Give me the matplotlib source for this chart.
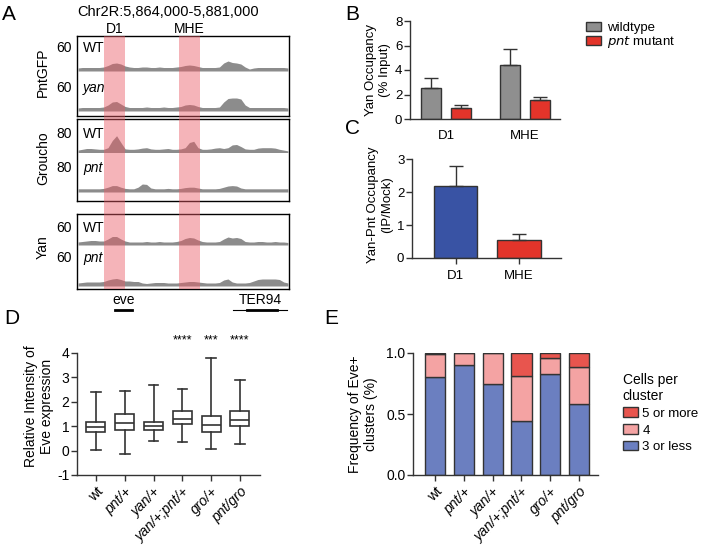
import matplotlib.pyplot as plt
import numpy as np
from matplotlib.patches import Patch

plt.rcParams['font.family'] = ['Liberation Sans', 'DejaVu Sans']
plt.rcParams['font.size'] = 9.5
plt.rcParams['axes.linewidth'] = 1.0
plt.rcParams['axes.unicode_minus'] = False

W, H = 701, 545
fig = plt.figure(figsize=(W / 100, H / 100), dpi=100)


def px_axes(x0, y0, x1, y1):
    # axes placed by pixel box (left, top, right, bottom)
    return fig.add_axes([x0 / W, 1 - y1 / H, (x1 - x0) / W, (y1 - y0) / H])


# ---------------- data ----------------
region_kb = 17.0
pntgfp_wt = [6, 7, 7, 7, 7, 7, 8, 11, 15, 16, 14, 10, 8, 7, 7, 8, 8, 7, 7, 8, 7, 7, 7, 8, 9,
             11, 12, 11, 9, 7, 7, 7, 7, 8, 16, 20, 17, 16, 14, 8, 4, 6, 7, 7, 7, 7, 7, 7, 7, 6]
pntgfp_yan = [6, 7, 7, 7, 7, 7, 8, 12, 18, 19, 14, 9, 7, 7, 7, 7, 8, 7, 7, 7, 8, 7, 7, 8, 9,
              12, 13, 12, 9, 7, 7, 7, 7, 8, 18, 25, 26, 26, 24, 12, 7, 7, 7, 7, 7, 7, 7, 7, 7, 6]
groucho_wt = [6, 8, 10, 10, 9, 8, 8, 12, 30, 42, 25, 9, 8, 8, 9, 11, 12, 9, 8, 8, 9, 10, 8, 8, 9,
              12, 25, 28, 12, 8, 8, 9, 11, 12, 10, 12, 19, 20, 15, 9, 8, 8, 11, 12, 12, 12, 11, 8, 6, 4]
groucho_pnt = [8, 8, 8, 8, 8, 8, 9, 12, 16, 16, 12, 9, 8, 8, 12, 20, 19, 10, 8, 8, 8, 9, 8, 8, 9,
               11, 12, 12, 10, 8, 8, 8, 8, 9, 12, 15, 16, 15, 10, 8, 8, 8, 8, 8, 8, 8, 8, 8, 8, 8]
yan_wt = [6, 7, 8, 9, 9, 8, 8, 12, 17, 17, 12, 8, 6, 6, 6, 6, 7, 6, 6, 7, 6, 6, 6, 7, 9,
          13, 15, 14, 10, 7, 6, 6, 6, 7, 12, 16, 14, 15, 13, 7, 6, 6, 7, 7, 6, 6, 7, 6, 6, 5]
yan_pnt = [6, 7, 8, 8, 8, 8, 9, 12, 14, 15, 13, 10, 10, 9, 9, 6, 5, 6, 7, 7, 7, 6, 6, 6, 7,
           8, 9, 9, 8, 7, 6, 6, 6, 7, 12, 14, 8, 6, 6, 6, 7, 10, 13, 14, 14, 14, 14, 13, 8, 6]
enhancers = {'D1': (2.16, 3.84), 'MHE': (8.16, 9.86)}
genes = {'eve': (3.05, 4.41, 3.05, 4.41), 'TER94': (12.5, 16.84, 13.6, 16.0)}

occ_sites = ['D1', 'MHE']
occ_wt = [2.57, 4.44]
occ_wt_err = [0.74, 1.25]
occ_pnt = [0.92, 1.54]
occ_pnt_err = [0.22, 0.28]

yp_occ = [2.17, 0.56]
yp_err = [0.61, 0.18]

genotypes = ['wt', 'pnt/+', 'yan/+', 'yan/+;pnt/+', 'gro/+', 'pnt/gro']
eve_min = [0.01, -0.14, 0.41, 0.37, 0.08, 0.29]
eve_q1 = [0.76, 0.83, 0.86, 1.07, 0.78, 0.99]
eve_med = [0.97, 1.13, 1.02, 1.29, 1.06, 1.24]
eve_q3 = [1.17, 1.52, 1.16, 1.62, 1.43, 1.62]
eve_max = [2.39, 2.46, 2.67, 2.52, 3.78, 2.91]
eve_stars = ['', '', '', '****', '***', '****']

frac_3less = [0.80, 0.90, 0.745, 0.44, 0.83, 0.585]
frac_4 = [0.19, 0.10, 0.255, 0.37, 0.13, 0.30]
frac_5more = [0.01, 0.0, 0.0, 0.19, 0.04, 0.115]

dark = '#333333'
gray_track = '#8c8c8c'

# ---------------- A: browser tracks ----------------
boxes = [(36, 116), (119, 201), (214, 289)]
for top, bot in boxes:
    axb = px_axes(77, top, 289, bot)
    axb.set_xlim(0, region_kb)
    axb.set_xticks([]), axb.set_yticks([])
    for s in axb.spines.values():
        s.set_linewidth(1.0)

x_bins = np.linspace(0, region_kb, len(pntgfp_wt))
tracks = [
    (pntgfp_wt, 60, 71, 41, 'WT', False),
    (pntgfp_yan, 60, 111, 81, 'yan', True),
    (groucho_wt, 80, 152.5, 120.5, 'WT', False),
    (groucho_pnt, 80, 192, 160, 'pnt', True),
    (yan_wt, 60, 245, 215, 'WT', False),
    (yan_pnt, 60, 286, 256, 'pnt', True),
]
label_y = [48, 88, 134, 168, 228, 258]
for (vals, scale, bot, top, lab, ital), ly in zip(tracks, label_y):
    axt = px_axes(78, top, 288, bot)
    axt.set_xlim(0, region_kb)
    axt.set_ylim(0, scale)
    axt.fill_between(x_bins, 0, vals, color=gray_track, lw=0)
    axt.set_axis_off()
    fig.text(72 / W, 1 - ly / H, str(scale), ha='right', va='center', fontsize=10)
    fig.text(83 / W, 1 - ly / H, lab, ha='left', va='center', fontsize=10,
             style='italic' if ital else 'normal')

axo = px_axes(77, 36, 289, 289)
axo.set_xlim(0, region_kb)
axo.set_axis_off()
for name, (a, b) in enhancers.items():
    axo.axvspan(a, b, color='#e95964', alpha=0.45, lw=0)
    xc = 77 + (a + b) / 2 / region_kb * 212
    fig.text(xc / W, 1 - 29 / H, name, ha='center', va='center', fontsize=10)

axg = px_axes(77, 292, 289, 316)
axg.set_xlim(0, region_kb)
axg.set_ylim(0, 1)
axg.set_axis_off()
for name, (a, b, ta, tb) in genes.items():
    axg.plot([a, b], [0.27, 0.27], color='black', lw=0.8)
    axg.plot([ta, tb], [0.27, 0.27], color='black', lw=2.0)
    axg.text((a + b) / 2, 0.67, name, ha='center', va='center', fontsize=10)

fig.text(168 / W, 1 - 12 / H, 'Chr2R:5,864,000-5,881,000', ha='center', va='center', fontsize=10.5)
for name, yc in [('PntGFP', 72), ('Groucho', 158), ('Yan', 247)]:
    fig.text(43 / W, 1 - yc / H, name, rotation=90, ha='center', va='center', fontsize=10)


def style_axes(ax, xticks_len=4, xpad=3):
    ax.spines['top'].set_visible(False)
    ax.spines['right'].set_visible(False)
    ax.spines['left'].set_color(dark)
    ax.spines['bottom'].set_color(dark)
    ax.tick_params(axis='y', direction='out', length=4, width=1, color=dark, pad=1.5)
    ax.tick_params(axis='x', direction='out', length=xticks_len, width=1, color=dark, pad=xpad)


# ---------------- B ----------------
axB = px_axes(410, 21, 560, 119)
xs = np.arange(len(occ_sites))
ek = dict(ecolor=dark, elinewidth=1, capthick=1)
axB.bar(xs - 0.19, occ_wt, 0.255, color='#8f8f8f', edgecolor=dark, lw=1,
        yerr=[np.zeros(2), occ_wt_err], capsize=5, error_kw=ek)
axB.bar(xs + 0.19, occ_pnt, 0.255, color='#e3342a', edgecolor=dark, lw=1,
        yerr=[np.zeros(2), occ_pnt_err], capsize=5, error_kw=ek)
axB.set_xlim(-0.46, 1.45)
axB.set_ylim(0, 8)
axB.set_yticks([0, 2, 4, 6, 8])
axB.set_xticks(xs)
axB.set_xticklabels(occ_sites)
style_axes(axB, xticks_len=0, xpad=8)
axB.tick_params(labelsize=9.5)
fig.text(378 / W, 1 - 70 / H, 'Yan Occupancy\n(% Input)', rotation=90, ha='center',
         va='center', fontsize=9.5, linespacing=1.15)
axB.legend([Patch(facecolor='#8f8f8f', edgecolor=dark), Patch(facecolor='#e3342a', edgecolor=dark)],
           ['wildtype', r'$\it{pnt}$ mutant'], loc='upper left', bbox_to_anchor=(579 / W, 1 - 15 / H),
           bbox_transform=fig.transFigure, frameon=False, fontsize=9.5, handlelength=1.2,
           handleheight=0.7, handletextpad=0.4, labelspacing=0.05, borderpad=0)

# ---------------- C ----------------
axC = px_axes(412, 159, 561, 258)
axC.bar(xs, yp_occ, 0.68, color=['#3953a4', '#e3342a'], edgecolor=dark, lw=1,
        yerr=[np.zeros(2), yp_err], capsize=5, error_kw=ek)
axC.set_xlim(-0.685, 1.66)
axC.set_ylim(0, 3)
axC.set_yticks([0, 1, 2, 3])
axC.set_xticks(xs)
axC.set_xticklabels(occ_sites)
style_axes(axC, xpad=4.5)
axC.tick_params(labelsize=9.5)
fig.text(380 / W, 1 - 205 / H, 'Yan-Pnt Occupancy\n(IP/Mock)', rotation=90, ha='center',
         va='center', fontsize=9.5, linespacing=1.15)

# ---------------- D ----------------
axD = px_axes(77, 353, 260, 475)
stats = [dict(whislo=lo, q1=a, med=m, q3=b, whishi=hi, fliers=[])
         for lo, a, m, b, hi in zip(eve_min, eve_q1, eve_med, eve_q3, eve_max)]
lp = dict(color=dark, lw=1.2)
axD.bxp(stats, positions=range(len(genotypes)), widths=0.66, capwidths=0.33,
        showfliers=False, patch_artist=True,
        boxprops=dict(facecolor='white', edgecolor=dark, lw=1.2),
        whiskerprops=lp, capprops=lp, medianprops=lp)
axD.set_xlim(-0.66, 5.7)
axD.set_ylim(-1, 4)
axD.set_yticks([-1, 0, 1, 2, 3, 4])
style_axes(axD)
axD.tick_params(labelsize=10)
axD.set_xticks(range(len(genotypes)))
axD.set_xticklabels(genotypes, rotation=45, ha='right', rotation_mode='anchor', fontsize=10)
for lab in axD.get_xticklabels()[1:]:
    lab.set_style('italic')
for i, s in enumerate(eve_stars):
    if s:
        axD.text(i, 4.5, s, ha='center', va='center', fontsize=9, clip_on=False)
fig.text(39 / W, 1 - 406 / H, 'Relative Intensity of\nEve expression', rotation=90,
         ha='center', va='center', fontsize=10, linespacing=1.15)

# ---------------- E ----------------
axE = px_axes(413, 353, 598, 475)
gx = np.arange(len(genotypes))
c_blue, c_pink, c_red = '#6b7fc0', '#f4a3a3', '#e8554e'
axE.bar(gx, frac_3less, 0.7, color=c_blue, edgecolor=dark, lw=1)
axE.bar(gx, frac_4, 0.7, bottom=frac_3less, color=c_pink, edgecolor=dark, lw=1)
axE.bar(gx, frac_5more, 0.7, bottom=np.add(frac_3less, frac_4), color=c_red, edgecolor=dark, lw=1)
axE.set_xlim(-0.77, 5.66)
axE.set_ylim(0, 1)
axE.set_yticks([0, 0.5, 1.0])
axE.set_yticklabels(['0.0', '0.5', '1.0'])
style_axes(axE)
axE.tick_params(labelsize=10)
axE.set_xticks(gx)
axE.set_xticklabels(genotypes, rotation=45, ha='right', rotation_mode='anchor', fontsize=10)
for lab in axE.get_xticklabels()[1:]:
    lab.set_style('italic')
fig.text(363 / W, 1 - 414 / H, 'Frequency of Eve+\nclusters (%)', rotation=90,
         ha='center', va='center', fontsize=10, linespacing=1.15)
axE.legend([Patch(facecolor=c, edgecolor=dark) for c in (c_red, c_pink, c_blue)],
           ['5 or more', '4', '3 or less'], title='Cells per\ncluster',
           loc='upper left', bbox_to_anchor=(616 / W, 1 - 366 / H),
           bbox_transform=fig.transFigure, frameon=False, fontsize=9.5,
           title_fontsize=10, alignment='left', handlelength=1.2, handleheight=0.7,
           handletextpad=0.3, labelspacing=0.35, borderpad=0)

# panel letters
for letter, (x, y) in {'A': (9, 14), 'B': (352, 15), 'C': (352, 128), 'D': (12, 318), 'E': (331, 318)}.items():
    fig.text(x / W, 1 - y / H, letter, ha='center', va='center', fontsize=15)

fig.savefig('out.png', dpi=100)
